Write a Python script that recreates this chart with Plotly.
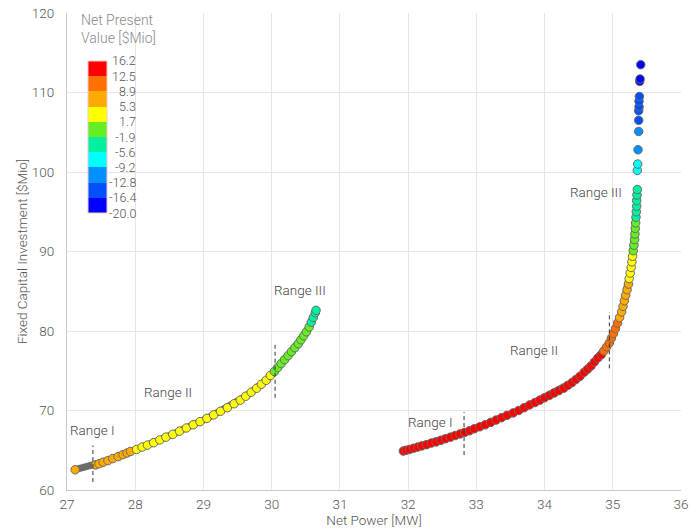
import plotly.graph_objects as go

# ---------------- data ----------------
left_x = [27.12, 27.42, 27.47, 27.53, 27.60, 27.67, 27.75, 27.82, 27.88, 27.93,
          28.02, 28.10, 28.18, 28.27, 28.36, 28.45, 28.55, 28.65, 28.75, 28.85,
          28.95, 29.05, 29.15, 29.25, 29.35, 29.45, 29.54, 29.62, 29.70, 29.78,
          29.85, 29.92, 29.98, 30.04, 30.09, 30.14, 30.19, 30.24, 30.29, 30.34,
          30.39, 30.43, 30.47, 30.51, 30.55, 30.58, 30.61, 30.64, 30.65]
left_y = [62.55, 63.15, 63.3, 63.5, 63.7, 63.95, 64.2, 64.45, 64.65, 64.85,
          65.1, 65.4, 65.65, 65.95, 66.3, 66.65, 67.0, 67.4, 67.8, 68.2,
          68.6, 69.0, 69.45, 69.9, 70.35, 70.85, 71.3, 71.8, 72.3, 72.8,
          73.3, 73.8, 74.4, 74.9, 75.4, 75.9, 76.4, 76.9, 77.4, 77.9,
          78.4, 78.9, 79.4, 79.9, 80.5, 81.1, 81.7, 82.3, 82.6]
left_npv = [6.9, 6.5, 6.4, 6.3, 6.1, 6.0, 5.8, 5.6, 5.5, 5.4,
            5.0, 4.9, 4.8, 4.7, 4.6, 4.5, 4.4, 4.3, 4.2, 4.1,
            3.9, 3.8, 3.7, 3.5, 3.4, 3.2, 3.0, 2.8, 2.6, 2.4,
            2.2, 2.0, 1.8, 1.5, 1.2, 0.9, 0.6, 0.3, 0.0, -0.3,
            -0.7, -1.1, -1.4, -1.6, -1.8, -2.1, -2.8, -3.3, -3.8]

right_x = [31.93, 31.97, 32.02, 32.08, 32.14, 32.20, 32.27, 32.34, 32.41, 32.48,
           32.55, 32.62, 32.69, 32.76, 32.83, 32.90, 32.97, 33.05, 33.13, 33.21,
           33.29, 33.37, 33.45, 33.54, 33.62, 33.70, 33.78, 33.86, 33.93, 34.00,
           34.07, 34.14, 34.21, 34.28, 34.34, 34.40, 34.46, 34.52, 34.58, 34.63,
           34.68, 34.73, 34.78, 34.83, 34.87, 34.91, 34.95, 34.98, 35.01, 35.04,
           35.07, 35.10, 35.13, 35.15, 35.17, 35.19, 35.21, 35.23, 35.24, 35.255,
           35.27, 35.28, 35.29, 35.30, 35.31, 35.32, 35.325, 35.33, 35.335, 35.34,
           35.345, 35.35, 35.35, 35.355, 35.36,
           35.36, 35.365, 35.37, 35.38, 35.38, 35.38, 35.385, 35.385, 35.39,
           35.395, 35.40, 35.41]
right_y = [64.9, 65.0, 65.1, 65.25, 65.4, 65.55, 65.7, 65.9, 66.05, 66.25,
           66.45, 66.65, 66.85, 67.05, 67.25, 67.45, 67.7, 67.95, 68.2, 68.5,
           68.8, 69.1, 69.4, 69.7, 70.0, 70.35, 70.7, 71.0, 71.3, 71.6,
           71.9, 72.2, 72.5, 72.8, 73.15, 73.5, 73.9, 74.3, 74.8, 75.2,
           75.6, 76.1, 76.6, 77.0, 77.5, 78.0, 78.5, 79.1, 79.7, 80.3,
           81.0, 81.7, 82.4, 83.1, 83.8, 84.5, 85.2, 85.9, 86.6, 87.3,
           88.0, 88.7, 89.4, 90.1, 90.8, 91.5, 92.2, 92.9, 93.6, 94.3,
           95.0, 95.7, 96.4, 97.1, 97.8,
           100.2, 101.0, 102.8, 105.1, 106.5, 107.7, 108.2, 108.9, 109.5,
           111.4, 111.7, 113.5]
right_npv = [16.0, 15.9, 15.8, 15.7, 15.6, 15.5, 15.4, 15.3, 15.2, 15.1,
             15.0, 14.9, 14.8, 14.7, 14.6, 14.5, 14.4, 14.3, 14.2, 14.1,
             14.0, 13.95, 13.9, 13.85, 13.8, 13.75, 13.7, 13.65, 13.6, 13.55,
             13.5, 13.45, 13.4, 13.35, 13.3, 13.25, 13.2, 13.15, 13.1, 13.05,
             13.0, 12.95, 12.9, 12.85, 12.3, 11.6, 11.0, 10.4, 9.8, 9.5,
             9.2, 8.6, 8.1, 7.6, 7.1, 6.6, 6.1, 5.6, 5.0, 4.4,
             3.8, 3.0, 2.2, 1.4, 0.8, 0.2, -0.4, -1.0, -1.6, -2.3,
             -3.0, -3.7, -4.4, -5.0, -5.4,
             -7.0, -7.8, -10.0, -11.5, -13.5, -14.2, -14.8, -15.4, -16.0,
             -17.5, -18.0, -19.8]

# dashed range dividers
divider_x = [27.38, 30.05, 32.82, 34.95]
divider_y0 = [61.0, 71.6, 64.4, 75.3]
divider_y1 = [65.6, 78.5, 69.8, 82.4]

# range labels
label_text = ["Range I", "Range II", "Range III", "Range I", "Range II", "Range III"]
label_x = [27.37, 28.48, 30.42, 32.33, 33.85, 34.75]
label_y = [67.5, 72.3, 85.2, 68.6, 77.6, 97.5]

# colour bar
cb_ticks = [16.2, 12.5, 8.9, 5.3, 1.7, -1.9, -5.6, -9.2, -12.8, -16.4, -20.0]
cb_colors = ["#ff0000", "#ff7000", "#ffaa00", "#ffff00", "#66ee22",
             "#00f0a0", "#00ffff", "#0090ff", "#0050ff", "#0000ff"]

# ---------------- figure ----------------
CMIN, CMAX = -20.0, 16.2
colors_low_to_high = cb_colors[::-1]
n = len(colors_low_to_high)
colorscale = []
for i, c in enumerate(colors_low_to_high):
    colorscale.append([i / n, c])
    colorscale.append([(i + 1) / n, c])

FONT = "Roboto, sans-serif"
fig = go.Figure()

DENSE_LIMIT = 98
rx_line = [x for x, y in zip(right_x, right_y) if y < DENSE_LIMIT]
ry_line = [y for y in right_y if y < DENSE_LIMIT]

for lx, ly in [(left_x, left_y), (rx_line, ry_line)]:
    fig.add_trace(go.Scatter(x=lx, y=ly, mode="lines",
                             line=dict(color="#6b6b6b", width=7),
                             hoverinfo="skip", showlegend=False))

for xs, ys, vs in [(left_x, left_y, left_npv), (right_x, right_y, right_npv)]:
    fig.add_trace(go.Scatter(
        x=xs, y=ys, mode="markers", showlegend=False,
        marker=dict(size=8.5, color=vs, coloraxis="coloraxis",
                    line=dict(color="#6b6b6b", width=1))))

dx, dy = [], []
for x, a, b in zip(divider_x, divider_y0, divider_y1):
    dx += [x, x, None]
    dy += [a, b, None]
fig.add_trace(go.Scatter(x=dx, y=dy, mode="lines", showlegend=False,
                         line=dict(color="#333", width=1, dash="4px,3px"),
                         hoverinfo="skip"))

for t, x, y in zip(label_text, label_x, label_y):
    fig.add_annotation(x=x, y=y, text=t, showarrow=False,
                       font=dict(family=FONT, size=13.5, color="#444", weight=300))

# colour bar geometry
L, R, T, B = 67, 19, 13, 41
W, H = 700, 531
pw, ph = W - L - R, H - T - B
cb_top_px, cb_bot_px = 61, 213
cb_y_top = (H - B - cb_top_px) / ph
cb_y_bot = (H - B - cb_bot_px) / ph
cb_len = cb_y_top - cb_y_bot

fig.update_layout(
    coloraxis=dict(
        cmin=CMIN, cmax=CMAX, colorscale=colorscale,
        colorbar=dict(x=(88 - L) / pw, xanchor="left", y=cb_y_top, yanchor="top",
                      len=cb_len, lenmode="fraction", thickness=19,
                      xpad=0, ypad=0, showticklabels=False, ticks="",
                      outlinecolor="#f2c8c8", outlinewidth=1)))

for i, v in enumerate(cb_ticks):
    yy = cb_y_top - i * cb_len / (len(cb_ticks) - 1)
    fig.add_annotation(xref="paper", yref="paper", x=(138 - L) / pw, y=yy,
                       xanchor="right", yanchor="middle", showarrow=False,
                       text=f"{v:.1f}",
                       font=dict(family=FONT, size=12.5, color="#555", weight=300))

fig.add_annotation(xref="paper", yref="paper", x=(79 - L) / pw, y=(H - B - 10) / ph,
                   xanchor="left", yanchor="top", align="left", showarrow=False,
                   text="Net Present<br>Value [$Mio]",
                   font=dict(family=FONT, size=14, color="#8a8a8a", weight=300))

fig.update_layout(
    width=W, height=H,
    margin=dict(l=L, r=R, t=T, b=B, autoexpand=False),
    paper_bgcolor="white", plot_bgcolor="white",
    font=dict(family=FONT, size=13.5, color="#555", weight=300),
    xaxis=dict(range=[27, 36], dtick=1, showgrid=True, gridcolor="#e6e6e6",
               showline=True, linecolor="#c8c8c8", zeroline=False,
               ticks="", ticklabelstandoff=2, automargin=False,
               title=dict(text="Net Power [MW]", standoff=1,
                          font=dict(size=13.5, color="#555"))),
    yaxis=dict(range=[60, 120], dtick=10, showgrid=True, gridcolor="#e6e6e6",
               showline=True, linecolor="#c8c8c8", zeroline=False,
               ticks="", ticklabelstandoff=9, automargin=False,
               title=dict(text="Fixed Capital Investment [$Mio]", standoff=1,
                          font=dict(size=13.5, color="#555"))),
)

fig.write_html("out.html")
